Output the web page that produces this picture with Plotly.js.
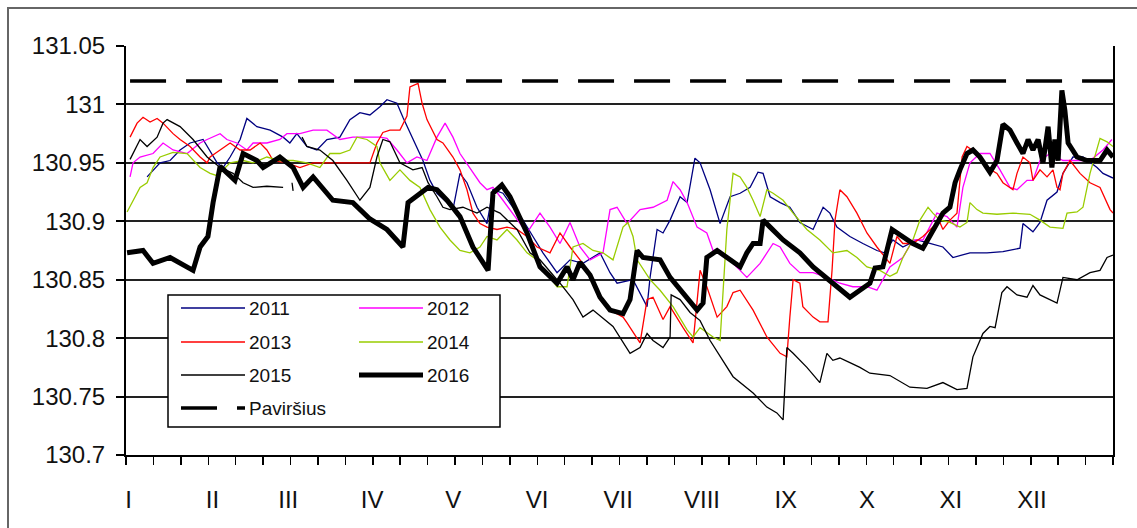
<!DOCTYPE html>
<html><head><meta charset="utf-8">
<script src="https://cdn.plot.ly/plotly-3.0.1.min.js"></script>
<style>html,body{margin:0;padding:0;background:#fff;overflow:hidden}#chart{width:1137px;height:528px}</style>
</head><body><div id="chart"></div><script>
// day-of-year, water level (m)
const s2011 = [[7.8,130.938],[12.6,130.950],[16.3,130.952],[20.0,130.961],[23.7,130.967],[28.5,130.970],[33.7,130.950],[35.9,130.946],[38.5,130.955],[42.2,130.970],[44.7,130.988],[48.4,130.981],[53.3,130.978],[58.1,130.972],[60.6,130.967],[63.2,130.975],[66.9,130.964],[70.6,130.961],[74.3,130.970],[79.1,130.972],[82.8,130.987],[86.5,130.993],[90.2,130.991],[93.9,130.998],[96.5,131.004],[100.2,131.001],[102.4,130.989],[105.0,130.976],[107.6,130.964],[109.8,130.952],[112.4,130.935],[115.0,130.924],[118.7,130.916],[120.9,130.910],[123.5,130.941],[126.1,130.933],[129.8,130.912],[133.5,130.898],[135.7,130.927],[139.4,130.924],[143.1,130.912],[146.8,130.901],[150.5,130.887],[154.2,130.873],[159.4,130.856],[164.2,130.867],[169.0,130.864],[175.3,130.873],[179.0,130.856],[181.6,130.847],[187.5,130.850],[192.7,130.827],[193.8,130.852],[196.4,130.893],[198.6,130.890],[201.2,130.901],[204.9,130.921],[207.5,130.916],[210.4,130.954],[212.3,130.950],[216.0,130.927],[219.7,130.898],[223.4,130.921],[227.1,130.924],[230.8,130.929],[233.7,130.942],[235.6,130.941],[238.2,130.921],[241.9,130.916],[245.5,130.912],[249.2,130.899],[254.1,130.893],[257.8,130.912],[260.3,130.907],[262.9,130.895],[267.7,130.887],[272.5,130.881],[277.7,130.875],[280.5,130.873],[283.6,130.884],[287.3,130.878],[292.5,130.884],[297.3,130.881],[302.1,130.878],[305.8,130.869],[312.1,130.873],[318.4,130.873],[324.3,130.874],[330.6,130.877],[331.7,130.898],[335.4,130.891],[338.0,130.899],[340.6,130.918],[344.3,130.925],[346.5,130.941],[350.2,130.955],[353.9,130.955],[359.1,130.946],[361.3,130.941],[365.0,130.937]];
const s2012 = [[1.5,130.938],[2.6,130.950],[5.2,130.955],[10.0,130.958],[13.7,130.967],[17.4,130.961],[22.6,130.958],[27.4,130.967],[30.0,130.970],[34.8,130.975],[37.3,130.970],[41.0,130.967],[44.7,130.961],[47.0,130.967],[52.1,130.967],[56.9,130.970],[59.5,130.975],[64.3,130.975],[69.2,130.978],[74.3,130.978],[79.1,130.970],[83.9,130.972],[89.1,130.972],[93.9,130.972],[96.5,130.971],[100.2,130.961],[103.9,130.950],[107.6,130.955],[111.3,130.952],[115.0,130.972],[118.0,130.984],[120.9,130.972],[123.5,130.958],[127.2,130.946],[130.9,130.933],[133.5,130.927],[135.7,130.929],[139.4,130.918],[144.6,130.901],[148.3,130.890],[153.1,130.907],[156.8,130.895],[160.5,130.881],[164.2,130.899],[167.9,130.878],[171.6,130.867],[176.4,130.873],[179.0,130.910],[181.6,130.912],[185.3,130.898],[190.1,130.910],[194.9,130.912],[200.1,130.918],[202.3,130.934],[204.9,130.927],[207.5,130.916],[211.2,130.895],[214.8,130.890],[217.1,130.875],[222.2,130.869],[227.1,130.858],[229.6,130.852],[234.5,130.864],[237.0,130.873],[239.3,130.881],[241.9,130.878],[245.5,130.864],[249.2,130.856],[254.1,130.856],[259.2,130.852],[264.0,130.847],[268.8,130.844],[274.0,130.844],[277.7,130.841],[282.5,130.861],[287.3,130.869],[291.0,130.884],[294.7,130.884],[299.9,130.907],[303.6,130.904],[307.3,130.895],[309.5,130.929],[312.1,130.950],[315.8,130.958],[319.5,130.958],[323.2,130.944],[326.9,130.929],[329.5,130.927],[333.2,130.935],[335.4,130.935],[338.0,130.952],[341.7,130.958],[346.5,130.952],[351.7,130.952],[356.5,130.952],[361.3,130.961],[364.6,130.970]];
const s2013 = [[1.5,130.972],[4.1,130.984],[6.3,130.989],[8.9,130.985],[11.5,130.988],[13.7,130.984],[17.4,130.975],[20.0,130.970],[23.7,130.964],[27.4,130.955],[30.0,130.950],[31.1,130.955],[34.8,130.961],[38.5,130.967],[42.2,130.961],[45.9,130.961],[49.6,130.967],[52.1,130.961],[54.4,130.952],[59.5,130.950],[64.3,130.946],[69.2,130.950],[76.5,130.950],[83.9,130.950],[90.2,130.950],[92.8,130.967],[95.0,130.976],[97.6,130.978],[101.3,130.978],[103.9,130.990],[105.0,131.015],[108.0,131.018],[109.5,131.001],[111.3,130.987],[115.0,130.970],[117.2,130.967],[120.9,130.955],[123.5,130.944],[126.1,130.927],[128.3,130.907],[130.9,130.898],[133.5,130.895],[137.2,130.893],[140.9,130.895],[144.6,130.893],[148.3,130.887],[152.0,130.878],[156.8,130.873],[160.5,130.890],[164.2,130.878],[167.9,130.867],[171.6,130.852],[175.3,130.833],[179.0,130.824],[183.8,130.818],[185.3,130.813],[190.1,130.796],[192.7,130.833],[194.9,130.835],[198.6,130.816],[201.2,130.827],[206.0,130.809],[209.7,130.796],[212.3,130.858],[214.8,130.844],[218.6,130.818],[222.2,130.827],[224.5,130.839],[227.1,130.841],[231.9,130.824],[237.0,130.801],[241.9,130.787],[244.4,130.784],[245.5,130.818],[246.7,130.850],[249.2,130.847],[250.3,130.827],[254.1,130.818],[256.6,130.814],[259.6,130.814],[261.1,130.858],[262.2,130.901],[264.0,130.927],[266.6,130.921],[270.3,130.907],[274.0,130.890],[277.7,130.878],[282.5,130.864],[285.1,130.887],[287.3,130.881],[291.0,130.881],[294.7,130.887],[298.4,130.895],[301.0,130.899],[302.1,130.893],[304.7,130.901],[307.3,130.907],[309.2,130.955],[311.0,130.964],[314.7,130.958],[318.4,130.946],[322.1,130.941],[324.3,130.933],[328.0,130.927],[329.5,130.941],[331.7,130.955],[334.3,130.950],[335.4,130.935],[338.0,130.944],[340.6,130.938],[342.8,130.944],[344.3,130.929],[345.4,130.927],[346.5,130.941],[349.1,130.952],[352.8,130.941],[356.5,130.933],[360.2,130.929],[363.9,130.910],[365.0,130.907]];
const s2014 = [[0.4,130.908],[2.6,130.918],[5.2,130.929],[7.8,130.933],[10.0,130.946],[12.6,130.955],[17.4,130.959],[22.6,130.958],[27.4,130.946],[31.1,130.941],[33.7,130.939],[38.5,130.950],[43.3,130.952],[47.0,130.950],[52.1,130.955],[56.9,130.952],[61.8,130.952],[66.9,130.950],[71.7,130.946],[75.4,130.958],[79.1,130.958],[82.8,130.961],[85.4,130.972],[89.1,130.970],[92.8,130.964],[93.9,130.950],[97.6,130.935],[101.3,130.944],[105.0,130.935],[108.7,130.929],[112.4,130.910],[116.1,130.895],[119.8,130.884],[123.5,130.875],[127.2,130.873],[130.9,130.878],[133.5,130.887],[137.2,130.884],[140.9,130.893],[144.6,130.884],[148.3,130.873],[152.0,130.867],[155.7,130.855],[159.4,130.844],[163.1,130.844],[165.3,130.878],[169.0,130.881],[172.7,130.875],[176.4,130.873],[180.1,130.867],[183.8,130.895],[185.6,130.899],[187.5,130.887],[189.0,130.867],[193.8,130.850],[197.5,130.841],[202.3,130.827],[207.5,130.807],[209.7,130.801],[212.3,130.809],[217.1,130.801],[219.7,130.798],[222.2,130.893],[224.5,130.941],[227.1,130.938],[229.6,130.929],[231.9,130.918],[234.5,130.904],[237.0,130.927],[239.3,130.924],[243.0,130.918],[246.7,130.907],[251.8,130.893],[256.6,130.884],[261.4,130.873],[266.6,130.875],[270.3,130.869],[274.0,130.861],[278.8,130.858],[282.5,130.853],[285.1,130.856],[287.3,130.869],[291.0,130.884],[293.6,130.901],[296.6,130.912],[298.4,130.907],[301.0,130.901],[304.7,130.899],[308.4,130.895],[311.0,130.899],[312.1,130.916],[314.7,130.910],[316.9,130.907],[322.1,130.906],[328.0,130.907],[334.3,130.906],[338.0,130.901],[341.7,130.895],[346.5,130.894],[348.0,130.907],[351.7,130.908],[353.9,130.912],[356.5,130.941],[359.1,130.961],[360.2,130.971],[362.8,130.968],[365.0,130.964]];
const s2015 = [[1.5,130.953],[5.2,130.970],[7.8,130.964],[11.5,130.972],[13.7,130.984],[15.2,130.987],[20.0,130.981],[24.8,130.970],[30.0,130.955],[34.8,130.946],[39.6,130.941],[43.3,130.933],[47.0,130.929],[52.1,130.930],[58.1,130.929],[60.0,null],[61.4,130.933],[61.8,130.926],[63.0,null],[65.1,130.972],[66.9,130.964],[71.7,130.961],[76.5,130.952],[81.7,130.935],[86.5,130.918],[90.2,130.929],[92.8,130.955],[95.0,130.970],[97.6,130.968],[101.3,130.950],[106.1,130.944],[109.5,130.946],[111.7,130.933],[115.0,130.921],[117.2,130.912],[119.8,130.910],[124.6,130.912],[129.8,130.907],[133.5,130.912],[138.3,130.907],[144.6,130.893],[149.4,130.873],[153.1,130.867],[160.5,130.847],[165.3,130.833],[169.0,130.818],[172.7,130.824],[180.1,130.810],[186.4,130.787],[190.1,130.792],[192.7,130.804],[194.9,130.798],[198.6,130.792],[201.2,130.801],[201.6,130.837],[204.9,130.833],[208.6,130.822],[212.3,130.815],[216.0,130.798],[224.5,130.767],[231.9,130.753],[237.0,130.741],[240.7,130.736],[243.0,130.730],[244.4,130.792],[246.7,130.787],[251.8,130.775],[256.6,130.762],[259.2,130.787],[261.4,130.781],[264.0,130.783],[267.7,130.779],[271.4,130.775],[275.1,130.770],[282.5,130.768],[289.9,130.758],[296.2,130.757],[302.1,130.762],[307.3,130.756],[311.0,130.757],[313.2,130.784],[316.9,130.804],[319.5,130.810],[321.4,130.809],[323.9,130.839],[325.8,130.844],[329.5,130.837],[333.2,130.835],[335.4,130.845],[338.0,130.837],[344.3,130.830],[346.5,130.852],[351.7,130.850],[356.5,130.856],[360.2,130.858],[362.8,130.869],[365.0,130.871]];
const s2016 = [[0.4,130.873],[6.3,130.875],[10.0,130.864],[16.3,130.869],[24.8,130.858],[27.4,130.878],[30.3,130.887],[32.2,130.916],[34.8,130.947],[40.3,130.935],[43.3,130.958],[48.4,130.952],[50.7,130.946],[56.9,130.955],[61.8,130.946],[65.5,130.929],[69.2,130.938],[76.5,130.918],[83.9,130.916],[90.2,130.902],[96.5,130.893],[102.4,130.878],[104.3,130.916],[108.7,130.924],[111.7,130.929],[115.0,130.927],[118.7,130.918],[123.5,130.904],[128.3,130.878],[133.9,130.858],[135.7,130.924],[139.0,130.931],[142.0,130.921],[148.3,130.890],[153.1,130.861],[159.4,130.847],[163.1,130.861],[165.3,130.850],[167.9,130.865],[171.6,130.854],[175.3,130.835],[179.0,130.824],[183.8,130.821],[186.4,130.833],[189.0,130.875],[191.2,130.869],[197.5,130.867],[201.2,130.852],[206.0,130.839],[211.2,130.824],[213.4,130.830],[214.8,130.869],[218.6,130.875],[222.2,130.869],[227.1,130.861],[229.6,130.873],[231.9,130.881],[234.5,130.881],[235.6,130.901],[238.2,130.895],[243.0,130.884],[249.2,130.873],[254.1,130.861],[261.4,130.847],[267.7,130.835],[271.4,130.841],[275.1,130.847],[277.0,130.860],[279.9,130.861],[283.3,130.893],[287.3,130.887],[291.0,130.881],[294.7,130.877],[297.3,130.887],[299.9,130.899],[302.1,130.907],[304.7,130.912],[306.6,130.933],[308.4,130.944],[311.0,130.958],[313.2,130.961],[315.8,130.955],[319.5,130.942],[322.1,130.952],[324.3,130.983],[326.9,130.978],[329.5,130.967],[331.7,130.958],[333.6,130.970],[335.4,130.961],[337.3,130.970],[339.1,130.950],[341.0,130.981],[342.4,130.946],[343.5,130.970],[344.7,130.952],[346.1,131.012],[347.2,130.995],[348.4,130.967],[351.7,130.955],[355.4,130.952],[360.2,130.952],[362.8,130.961],[365.0,130.955]];
const surfaceLevel = 131.02;
const surfaceDays = [1.5, 365];

const seriesNames = ['2011','2012','2013','2014','2015','2016'];
const seriesData = [s2011, s2012, s2013, s2014, s2015, s2016];
const seriesColors = ['#000080','#ff00ff','#ff0000','#99cc00','#000000','#000000'];
const seriesWidths = [1.3, 1.3, 1.3, 1.3, 1.3, 5];
const surfaceName = 'Paviršius';

const monthDays = [1,32,60,91,121,152,182,213,244,274,305,335];
const monthLabels = ['I','II','III','IV','V','VI','VII','VIII','IX','X','XI','XII'];
const yTicks = [130.7,130.75,130.8,130.85,130.9,130.95,131,131.05];
const yTickText = ['130.7','130.75','130.8','130.85','130.9','130.95','131','131.05'];

const traces = seriesData.map((s,i)=>({
  type:'scatter', mode:'lines', name:seriesNames[i], showlegend:false,
  x:s.map(p=>p[0]), y:s.map(p=>p[1]), connectgaps:false,
  line:{color:seriesColors[i], width:seriesWidths[i]}
}));
traces.push({type:'scatter',mode:'lines',name:surfaceName,showlegend:false,
  x:surfaceDays, y:surfaceDays.map(()=>surfaceLevel),
  line:{color:'#000',width:3.5,dash:'36px,20px'}});

// custom two-column legend (paper coords)
const W=987, H=409;
const px=v=>(v-126)/W, py=v=>(455-v)/H;
const shapes=[
  {type:'rect',xref:'paper',yref:'paper',x0:px(8),x1:px(1160),y0:py(560),y1:py(8),line:{color:'#666',width:2},fillcolor:'rgba(0,0,0,0)',layer:'below'},
  {type:'rect',xref:'paper',yref:'paper',x0:px(168),x1:px(500),y0:py(427),y1:py(295),line:{color:'#000',width:1.5},fillcolor:'#fff',layer:'above'}
];
const annotations=[];
const legendItems = seriesNames.map((n,i)=>({name:n,color:seriesColors[i],width:seriesWidths[i],dash:'solid'}));
legendItems.push({name:surfaceName,color:'#000',width:3.5,dash:'36px,20px'});
const rowsY=[308,342,375,408], colX=[181,359];
legendItems.forEach((it,i)=>{
  const r=Math.floor(i/2), c=i%2;
  const yy=py(rowsY[r]);
  shapes.push({type:'line',xref:'paper',yref:'paper',x0:px(colX[c]),x1:px(colX[c]+64),y0:yy,y1:yy,
    line:{color:it.color,width:it.width,dash:it.dash},layer:'above'});
  annotations.push({xref:'paper',yref:'paper',x:px(colX[c]+66),y:yy,xanchor:'left',yanchor:'middle',
    text:it.name,showarrow:false,font:{family:'Liberation Sans, Arial, sans-serif',size:19,color:'#111'}});
});

const layout={
  width:1137,height:528,
  margin:{l:126,r:24,t:46,b:73},
  paper_bgcolor:'#fff',plot_bgcolor:'#fff',
  showlegend:false,
  font:{family:'Liberation Sans, Arial, sans-serif',color:'#111'},
  xaxis:{range:[0,365],tickmode:'array',tickvals:monthDays,ticktext:monthLabels,ticks:'',
    ticklabelstandoff:22,tickfont:{size:24,color:'#111'},showgrid:false,zeroline:false,
    showline:true,linecolor:'#000',linewidth:2,
    minor:{ticks:'outside',ticklen:8,tickcolor:'#000',tickwidth:1.5,tickmode:'linear',tick0:0,dtick:365/36,showgrid:false}},
  yaxis:{range:[130.7,131.05],tickmode:'array',tickvals:yTicks,ticktext:yTickText,
    ticks:'outside',ticklen:8,tickcolor:'#000',tickwidth:2,tickfont:{size:24,color:'#111'},
    showgrid:true,gridcolor:'#222',gridwidth:2,zeroline:false,
    showline:true,linecolor:'#000',linewidth:2,mirror:true,ticklabelstandoff:6},
  shapes:shapes,annotations:annotations
};
Plotly.newPlot('chart',traces,layout,{staticPlot:true,displayModeBar:false});
</script></body></html>
